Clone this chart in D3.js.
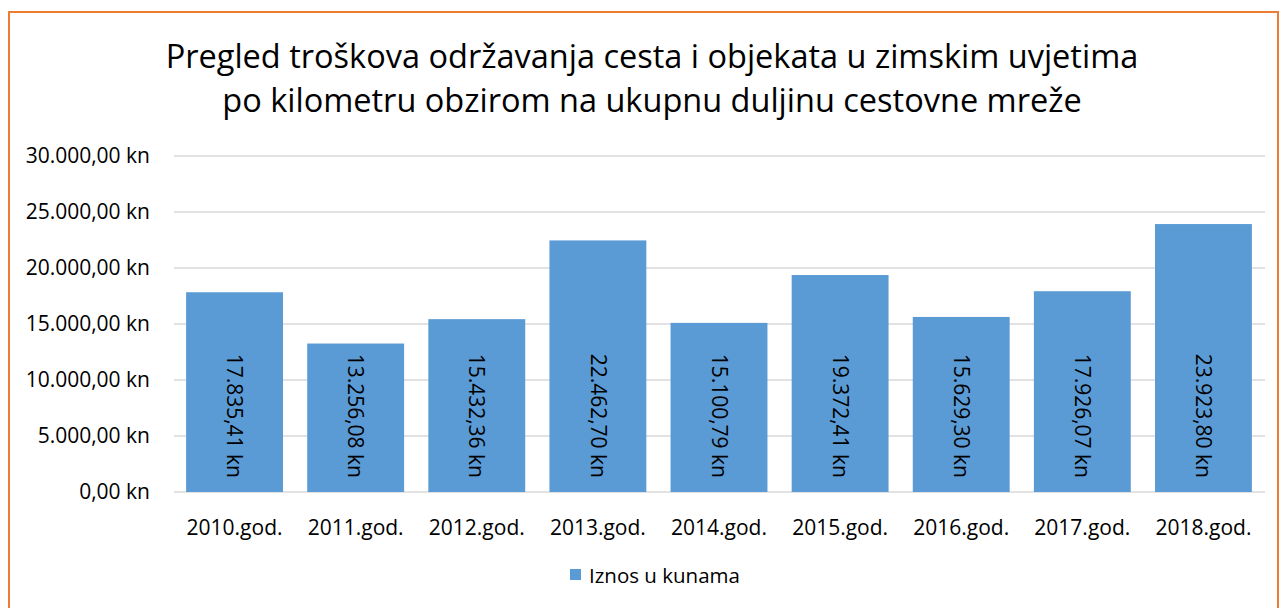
<!DOCTYPE html>
<html>
<head>
<meta charset="utf-8">
<script src="https://cdn.jsdelivr.net/npm/d3@7"></script>
<style>
  body { margin: 0; background: #fff; }
  svg text { font-family: "Open Sans", "Noto Sans", sans-serif; fill: #000; }
</style>
</head>
<body>
<script>
(function(){

//chart data
var years = ["2010.god.", "2011.god.", "2012.god.", "2013.god.", "2014.god.", "2015.god.", "2016.god.", "2017.god.", "2018.god."];
var amounts = [17835.41, 13256.08, 15432.36, 22462.70, 15100.79, 19372.41, 15629.30, 17926.07, 23923.80];
var yTicks = [0, 5000, 10000, 15000, 20000, 25000, 30000];
var titleLines = ["Pregled troškova održavanja cesta i objekata u zimskim uvjetima",
                  "po kilometru obzirom na ukupnu duljinu cestovne mreže"];
var seriesName = "Iznos u kunama";

var width = 1282, height = 608;

var svg = d3.select("body").append("svg")
    .attr("width", width)
    .attr("height", height);

//orange frame
svg.append("rect")
    .attr("x", 9).attr("y", 12)
    .attr("width", 1269).attr("height", 620)
    .attr("fill", "none")
    .attr("stroke", "#ED7D31")
    .attr("stroke-width", 2);

//croatian number format
var hr = d3.formatLocale({decimal: ",", thousands: ".", grouping: [3], currency: ["", " kn"]});
var fmt = hr.format(",.2f");

var x = d3.scaleBand()
    .domain(years)
    .range([174, 1264])
    .paddingInner(0.2)
    .paddingOuter(0.1);

var y = d3.scaleLinear()
    .domain([0, 30000])
    .range([492, 156]);

//title
svg.append("g").selectAll("text")
    .data(titleLines)
    .enter().append("text")
    .attr("x", 652)
    .attr("y", function(d, i){ return 68 + i * 44; })
    .attr("text-anchor", "middle")
    .style("font-size", "32.5px")
    .text(function(d){ return d; });

//gridlines
svg.append("g").selectAll("line")
    .data(yTicks)
    .enter().append("line")
    .attr("x1", 174).attr("x2", 1265)
    .attr("y1", function(d){ return y(d); })
    .attr("y2", function(d){ return y(d); })
    .attr("stroke", "#D9D9D9")
    .attr("stroke-width", 1.3);

//y axis labels
svg.append("g").selectAll("text")
    .data(yTicks)
    .enter().append("text")
    .attr("x", 150)
    .attr("y", function(d){ return y(d); })
    .attr("dy", "0.35em")
    .attr("text-anchor", "end")
    .style("font-size", "21px")
    .text(function(d){ return fmt(d) + " kn"; });

//bars
svg.append("g").selectAll("rect")
    .data(amounts)
    .enter().append("rect")
    .attr("x", function(d, i){ return x(years[i]); })
    .attr("y", function(d){ return y(d); })
    .attr("width", x.bandwidth())
    .attr("height", function(d){ return y(0) - y(d); })
    .attr("fill", "#5B9BD5");

//value labels, rotated, inside base
svg.append("g").selectAll("text")
    .data(amounts)
    .enter().append("text")
    .attr("transform", function(d, i){
        var cx = x(years[i]) + x.bandwidth() / 2;
        return "translate(" + cx + "," + (y(0) - 14) + ") rotate(90)";
    })
    .attr("text-anchor", "end")
    .attr("dy", "0.35em")
    .style("font-size", "21px")
    .text(function(d){ return fmt(d) + " kn"; });

//x axis labels
svg.append("g").selectAll("text")
    .data(years)
    .enter().append("text")
    .attr("x", function(d){ return x(d) + x.bandwidth() / 2; })
    .attr("y", 528)
    .attr("dy", "0.35em")
    .attr("text-anchor", "middle")
    .style("font-size", "21px")
    .text(function(d){ return d; });

//legend
var legend = svg.append("g");
legend.append("rect")
    .attr("x", 570).attr("y", 569)
    .attr("width", 11).attr("height", 11)
    .attr("fill", "#5B9BD5");
legend.append("text")
    .attr("x", 589).attr("y", 576)
    .attr("dy", "0.35em")
    .style("font-size", "20.5px")
    .text(seriesName);

})();
</script>
</body>
</html>
